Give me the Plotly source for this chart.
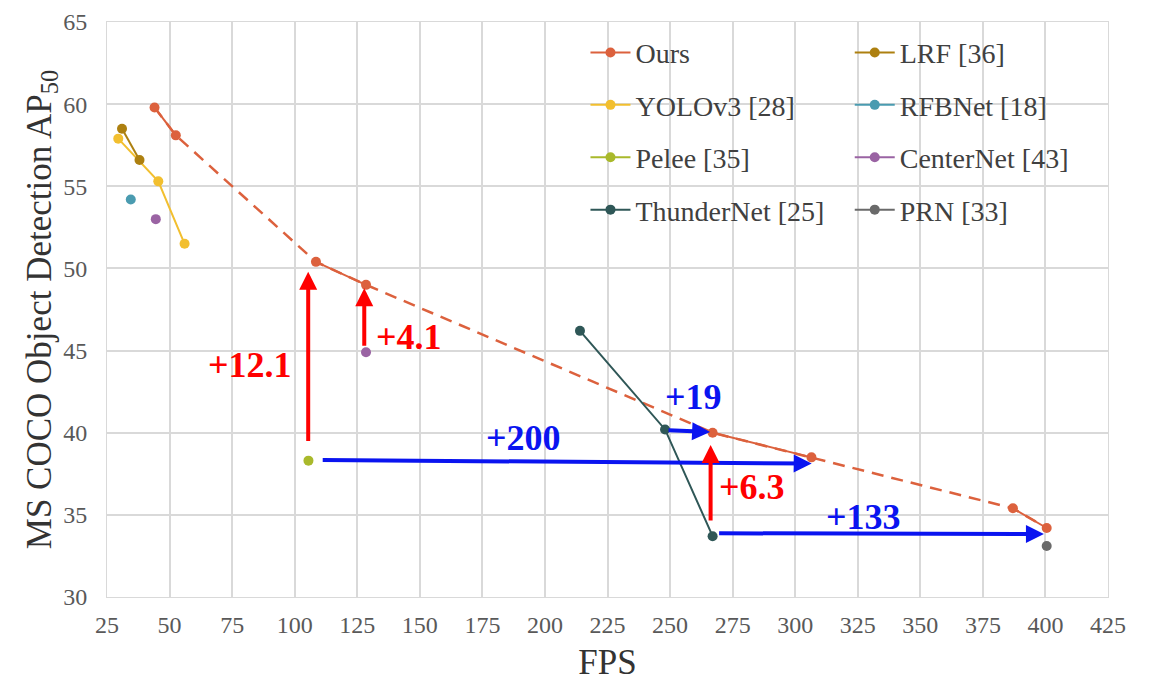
import plotly.graph_objects as go

# ---- data ----
ours_fps = [44, 52.5, 108.5, 128.5, 267, 306.5, 387, 400.5]
ours_ap = [59.8, 58.1, 50.4, 49.0, 40.0, 38.5, 35.4, 34.2]
lrf_fps = [31, 38]
lrf_ap = [58.5, 56.6]
yolo_fps = [29.5, 45.5, 56]
yolo_ap = [57.9, 55.3, 51.5]
rfb_fps = [34.5]
rfb_ap = [54.2]
pelee_fps = [105.5]
pelee_ap = [38.3]
center_fps = [44.5, 128.5]
center_ap = [53.0, 44.9]
thunder_fps = [214, 248, 267]
thunder_ap = [46.2, 40.2, 33.7]
prn_fps = [400.5]
prn_ap = [33.1]

x_ticks = list(range(25, 426, 25))
y_ticks = list(range(30, 66, 5))

# annotation arrows: (tail_x, tail_y, head_x, head_y, color)
arrows = [
    (105.4, 39.4, 105.4, 49.8, "red"),
    (127.8, 45.2, 127.8, 48.8, "red"),
    (110.6, 38.34, 306.6, 38.12, "blue"),
    (248.8, 40.16, 266.0, 40.04, "blue"),
    (266.2, 34.56, 266.2, 39.25, "red"),
    (269, 33.88, 399.4, 33.83, "blue"),
]
labels = [
    ("+12.1", 82.2, 44.1, "red"),
    ("+4.1", 145.5, 45.8, "red"),
    ("+200", 191.4, 39.7, "blue"),
    ("+19", 259.2, 42.2, "blue"),
    ("+6.3", 282.6, 36.7, "red"),
    ("+133", 327.4, 34.9, "blue"),
]

C_OURS = "#dc613d"
C_LRF = "#ad8010"
C_YOLO = "#f2bf2f"
C_RFB = "#4a9bb0"
C_PELEE = "#a9b92b"
C_CENTER = "#9a63a3"
C_THUNDER = "#2f5757"
C_PRN = "#6a6a6a"
RED = "#ff0000"
BLUE = "#0a14f0"
SERIF = "Liberation Serif, Times New Roman, serif"

fig = go.Figure()

# dashed connection for Ours
fig.add_trace(go.Scatter(x=ours_fps, y=ours_ap, mode="lines",
                         line=dict(color=C_OURS, width=2.5, dash="12px,8px"),
                         showlegend=False, hoverinfo="skip"))


def pairs(xs, ys, step):
    ox, oy = [], []
    for i in range(0, len(xs), step):
        ox += list(xs[i:i + step]) + [None]
        oy += list(ys[i:i + step]) + [None]
    return ox, oy


ox, oy = pairs(ours_fps, ours_ap, 2)
cx, cy = pairs(center_fps, center_ap, 1)


def add(name, x, y, color, legend, group):
    fig.add_trace(go.Scatter(x=x, y=y, name=name, mode="lines+markers",
                             line=dict(color=color, width=2),
                             marker=dict(color=color, size=10),
                             connectgaps=False, legend=legend, legendgroup=group))


add("Ours", ox, oy, C_OURS, "legend", "g1")
add("YOLOv3 [28]", yolo_fps, yolo_ap, C_YOLO, "legend", "g2")
add("Pelee [35]", pelee_fps, pelee_ap, C_PELEE, "legend", "g3")
add("ThunderNet [25]", thunder_fps, thunder_ap, C_THUNDER, "legend", "g4")
add("LRF [36]", lrf_fps, lrf_ap, C_LRF, "legend2", "h1")
add("RFBNet [18]", rfb_fps, rfb_ap, C_RFB, "legend2", "h2")
add("CenterNet [43]", cx, cy, C_CENTER, "legend2", "h3")
add("PRN [33]", prn_fps, prn_ap, C_PRN, "legend2", "h4")

ann = []
for tx, ty, hx, hy, c in arrows:
    col = RED if c == "red" else BLUE
    ann.append(dict(x=hx, y=hy, ax=tx, ay=ty, xref="x", yref="y", axref="x", ayref="y",
                    text="", showarrow=True, arrowhead=2, arrowsize=0.9, arrowwidth=4,
                    arrowcolor=col, standoff=0, startstandoff=0))
for t, x, y, c in labels:
    col = RED if c == "red" else BLUE
    ann.append(dict(x=x, y=y, xref="x", yref="y", text="<b>%s</b>" % t, showarrow=False,
                    font=dict(family=SERIF, size=36, color=col)))

leg_common = dict(font=dict(family=SERIF, size=28, color="#404040"),
                  bgcolor="rgba(0,0,0,0)", tracegroupgap=13, itemwidth=40,
                  yanchor="top", xanchor="left")

fig.update_layout(
    width=1157, height=686,
    margin=dict(l=99, r=57, t=14, b=97, autoexpand=False),
    plot_bgcolor="white", paper_bgcolor="white",
    font=dict(family=SERIF, color="#404040"),
    xaxis=dict(range=[25, 425], tickvals=x_ticks, showgrid=True, gridcolor="#d9d9d9",
               gridwidth=1.5, zeroline=False, showline=True, linecolor="#d9d9d9", mirror=True,
               tickfont=dict(family=SERIF, size=24, color="#595959"), automargin=False,
               ticklabelstandoff=6,
               ticks="", title=dict(text="FPS", standoff=12,
                                    font=dict(family=SERIF, size=35, color="#333333"))),
    yaxis=dict(range=[30, 65], tickvals=y_ticks, showgrid=True, gridcolor="#d9d9d9",
               gridwidth=1.5, zeroline=False, showline=True, linecolor="#d9d9d9", mirror=True,
               tickfont=dict(family=SERIF, size=24, color="#595959"), automargin=False,
               ticklabelstandoff=14,
               ticks="", title=dict(text="MS COCO Object Detection AP<sub>50</sub>", standoff=0,
                                    font=dict(family=SERIF, size=35, color="#333333"))),
    legend=dict(x=0.478, y=0.99, **leg_common),
    legend2=dict(x=0.742, y=0.99, **leg_common),
    annotations=ann,
)

fig.write_html("out.html")
